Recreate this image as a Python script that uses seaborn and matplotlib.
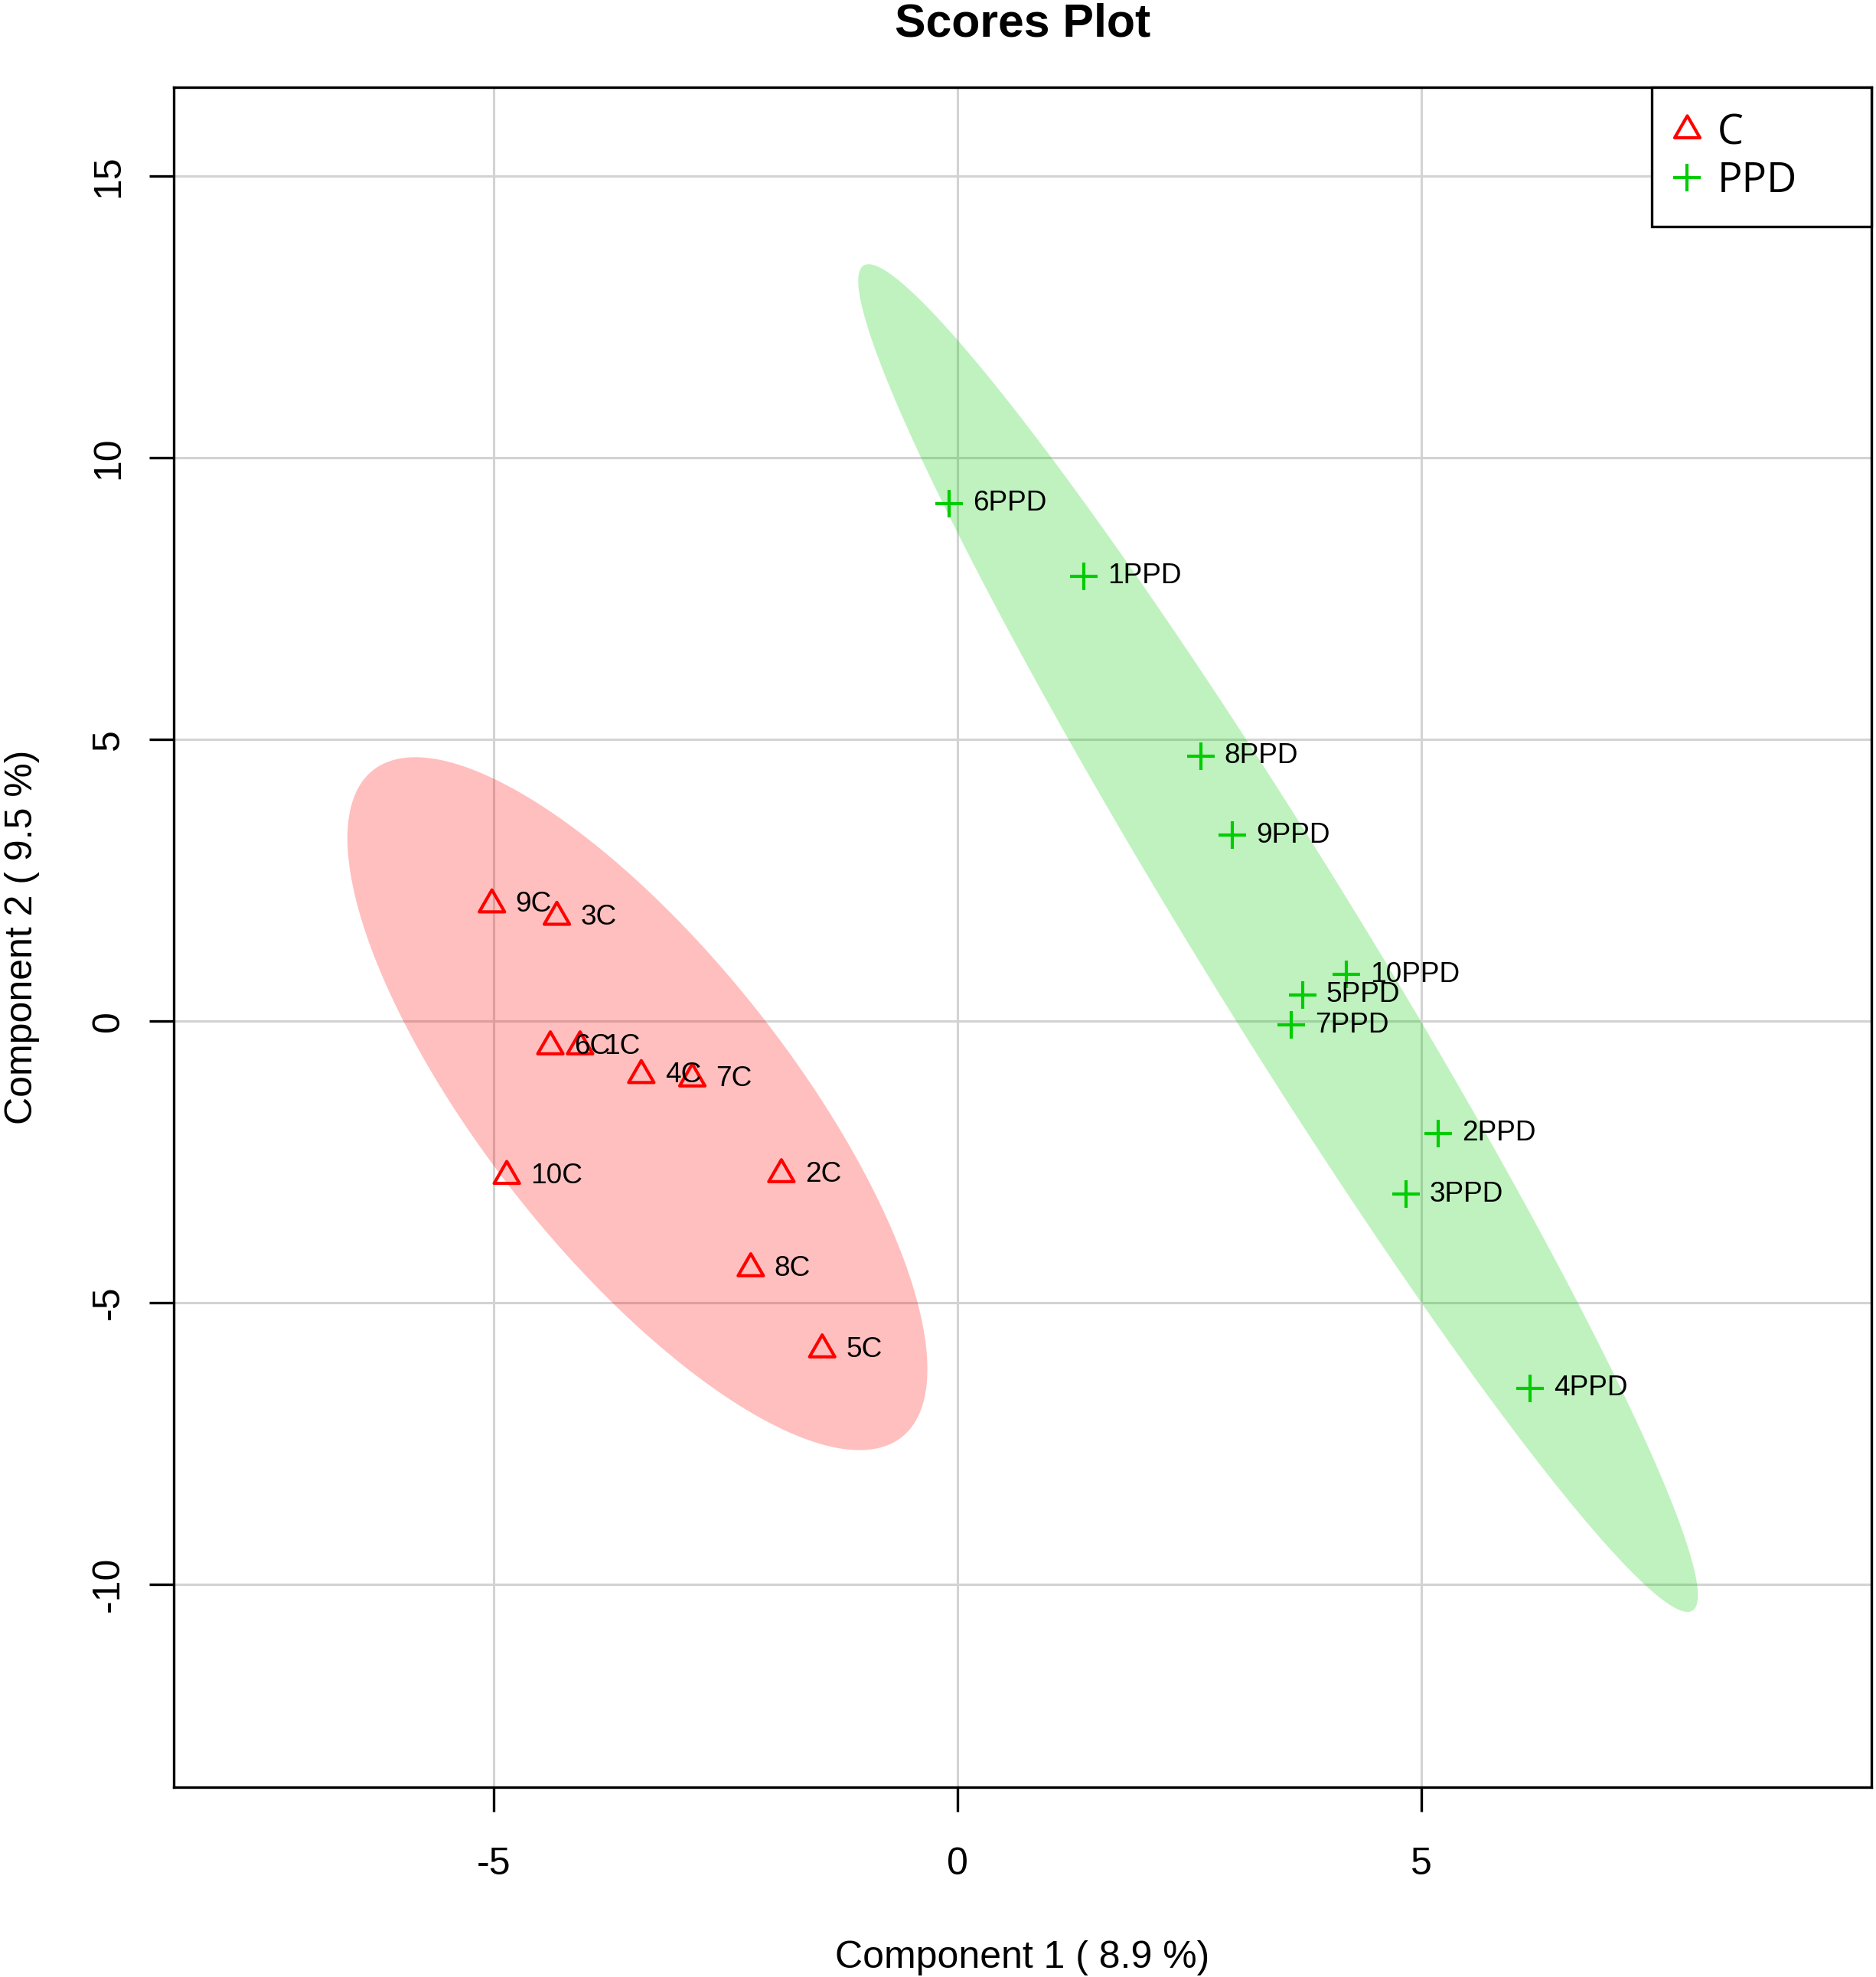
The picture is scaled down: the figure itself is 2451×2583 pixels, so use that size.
import numpy as np
import pandas as pd
import matplotlib
matplotlib.use("Agg")
import matplotlib.pyplot as plt
import seaborn as sns
from matplotlib.lines import Line2D
from matplotlib.path import Path

# ---------------- data ----------------
groups = ["C", "PPD"]
c_labels = ["1C", "2C", "3C", "4C", "5C", "6C", "7C", "8C", "9C", "10C"]
c_x = [-4.07, -1.90, -4.32, -3.41, -1.46, -4.39, -2.86, -2.23, -5.02, -4.86]
c_y = [-0.45, -2.72, 1.85, -0.96, -5.83, -0.45, -1.02, -4.39, 2.07, -2.75]
ppd_labels = ["1PPD", "2PPD", "3PPD", "4PPD", "5PPD", "6PPD", "7PPD", "8PPD", "9PPD", "10PPD"]
ppd_x = [1.36, 5.18, 4.83, 6.17, 3.72, -0.09, 3.60, 2.62, 2.96, 4.19]
ppd_y = [7.90, -1.99, -3.07, -6.52, 0.47, 9.19, -0.07, 4.71, 3.30, 0.83]
x_ticks = [-5, 0, 5]
y_ticks = [-10, -5, 0, 5, 10, 15]
title = "Scores Plot"
x_label = "Component 1 ( 8.9 %)"
y_label = "Component 2 ( 9.5 %)"

RED = "#FF0000"
GREEN = "#00CD00"

sns.set_style("ticks")
plt.rcParams["font.family"] = ["Liberation Sans", "DejaVu Sans"]
plt.rcParams["text.color"] = "black"
plt.rcParams["axes.labelcolor"] = "black"
plt.rcParams["xtick.color"] = "black"
plt.rcParams["ytick.color"] = "black"

df = pd.DataFrame({
    "x": c_x + ppd_x,
    "y": c_y + ppd_y,
    "label": c_labels + ppd_labels,
    "group": [groups[0]] * len(c_x) + [groups[1]] * len(ppd_x),
})

W, H, DPI = 2451, 2583, 300
fig = plt.figure(figsize=(W / DPI, H / DPI), dpi=DPI)
L, R, T, B = 227, 2445, 114, 2335
ax = fig.add_axes([L / W, 1 - B / H, (R - L) / W, (B - T) / H])
ax.set_xlim(-8.45, 9.85)
ax.set_ylim(-13.60, 16.58)


def conf_ellipse(x, y, chi2=5.991464547107979, n=240):
    pts = np.column_stack([x, y])
    mu = pts.mean(axis=0)
    cov = np.cov(pts.T)
    vals, vecs = np.linalg.eigh(cov)
    t = np.linspace(0, 2 * np.pi, n)
    circ = np.stack([np.cos(t), np.sin(t)])
    ell = vecs @ (np.sqrt(vals * chi2)[:, None] * circ)
    return mu[0] + ell[0], mu[1] + ell[1]


for g, col in zip(groups, [RED, GREEN]):
    sub = df[df["group"] == g]
    ex, ey = conf_ellipse(sub["x"].values, sub["y"].values)
    ax.fill(ex, ey, color=col, alpha=0.25, lw=0, zorder=1)

tri = Path([(-1, -0.57735), (1, -0.57735), (0, 1.1547), (-1, -0.57735)],
           [Path.MOVETO, Path.LINETO, Path.LINETO, Path.CLOSEPOLY])
sub_c = df[df["group"] == groups[0]]
sub_p = df[df["group"] == groups[1]]
sns.scatterplot(data=sub_c, x="x", y="y", marker=tri, s=84, color=RED,
                facecolor="none", edgecolor=RED, linewidth=1.0, ax=ax,
                zorder=3, legend=False)
sns.scatterplot(data=sub_p, x="x", y="y", marker="+", s=72, color=GREEN,
                linewidth=1.0, ax=ax, zorder=3, legend=False)

for _, r in df.iterrows():
    ax.annotate(r["label"], (r["x"], r["y"]), xytext=(7.4, 0),
                textcoords="offset points", ha="left", va="center",
                fontsize=8.9, color="black", zorder=4)

# grid / axes
ax.set_xticks(x_ticks)
ax.set_yticks(y_ticks)
ax.set_xticklabels([str(v) for v in x_ticks])
ax.set_yticklabels([str(v) for v in y_ticks], rotation=90, va="center")
ax.grid(True, color="#D3D3D3", lw=0.75)
ax.set_axisbelow(True)
for s in ax.spines.values():
    s.set_visible(True)
    s.set_color("black")
    s.set_linewidth(0.8)
ax.tick_params(axis="both", direction="out", length=7.7, width=0.8,
               colors="black", labelsize=12, top=False, right=False)
ax.tick_params(axis="x", pad=11)
ax.tick_params(axis="y", pad=7.2)

ax.set_xlabel(x_label, fontsize=12, color="black")
ax.xaxis.set_label_coords(0.5, -(2571 - B) / (B - T))
ax.xaxis.label.set_va("baseline")
ax.set_ylabel(y_label, fontsize=12, color="black")
ax.yaxis.set_label_coords((42 - L) / (R - L), 0.5)
ax.yaxis.label.set_va("baseline")
ax.yaxis.label.set_rotation_mode("anchor")

fig.text((L + R) / 2 / W, 1 - 47 / H, title, ha="center", va="baseline",
         fontsize=14.6, fontweight="bold", color="black")

handles = [
    Line2D([], [], marker=tri, ls="none", mfc="none", mec=RED, ms=9.15, mew=1.0),
    Line2D([], [], marker="+", ls="none", color=GREEN, mec=GREEN, ms=8.8, mew=1.0),
]
x0 = (2158 - L) / (R - L)
leg = ax.legend(handles, groups, loc="upper right",
                bbox_to_anchor=(x0, 0, 1 - x0, 1), mode="expand",
                borderaxespad=0, frameon=True, fancybox=False,
                edgecolor="black", framealpha=1,
                prop={"family": "Open Sans", "size": 13},
                handlelength=0.5, handletextpad=0.48, borderpad=0.60,
                labelspacing=0.13)
leg.get_frame().set_linewidth(0.8)
for t in leg.get_texts():
    t.set_color("black")
leg.set_zorder(5)

fig.savefig("out.png", dpi=DPI, facecolor="white")
